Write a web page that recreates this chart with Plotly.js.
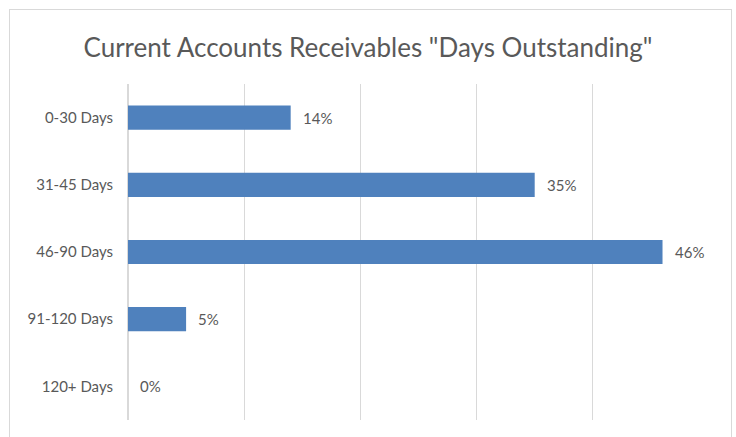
<!DOCTYPE html>
<html>
<head>
<meta charset="utf-8">
<script src="https://cdn.plot.ly/plotly-3.0.1.min.js"></script>
<style>
  html, body { margin: 0; padding: 0; background: #fff; }
  #wrap { position: relative; width: 736px; height: 437px; overflow: hidden; }
  #chart { position: absolute; left: 0; top: 0; width: 736px; height: 437px; }
  #frame { position: absolute; left: 9px; top: 9px; width: 721px; height: 460px;
           border: 1px solid #d9d9d9; pointer-events: none; }
</style>
</head>
<body>
<div id="wrap">
  <div id="chart"></div>
  <div id="frame"></div>
</div>
<script>
  // 应收账款账龄分布（百分比）
  var categories = ["0-30 Days", "31-45 Days", "46-90 Days", "91-120 Days", "120+ Days"];
  var shares = [14, 35, 46, 5, 0];
  var shareLabels = ["14%", "35%", "46%", "5%", "0%"];

  var ink = "#595959", grid = "#d9d9d9", bar = "#4f81bd";
  var font = "Lato, 'Open Sans', sans-serif";

  var trace = {
    type: "bar", orientation: "h",
    x: shares, y: categories,
    marker: { color: bar },
    hoverinfo: "skip"
  };

  var notes = shares.map(function (v, i) {
    return {
      x: v, y: categories[i], xref: "x", yref: "y",
      text: shareLabels[i], showarrow: false,
      xanchor: "left", xshift: 10,
      font: { family: font, size: 15, color: ink }
    };
  });

  Plotly.newPlot("chart", [trace], {
    width: 736, height: 437, autosize: false,
    paper_bgcolor: "#fff", plot_bgcolor: "#fff",
    margin: { l: 128, r: 27, t: 84, b: 17 },
    title: {
      text: 'Current Accounts Receivables "Days Outstanding"',
      font: { family: font, size: 26, color: ink },
      x: 0.5, xanchor: "center", y: 1, yref: "paper", yanchor: "bottom", pad: { b: 27 }
    },
    bargap: 0.64,
    showlegend: false,
    xaxis: {
      range: [0, 50], dtick: 10, showticklabels: false,
      showgrid: true, gridcolor: grid, gridwidth: 1,
      zeroline: true, zerolinecolor: grid, zerolinewidth: 1.5,
      showline: false, fixedrange: true
    },
    yaxis: {
      autorange: "reversed", showgrid: false, showline: false, zeroline: false,
      ticks: "", ticklabelstandoff: 14,
      tickfont: { family: font, size: 15, color: ink }, fixedrange: true
    },
    annotations: notes
  }, { displayModeBar: false, staticPlot: true });
</script>
</body>
</html>
